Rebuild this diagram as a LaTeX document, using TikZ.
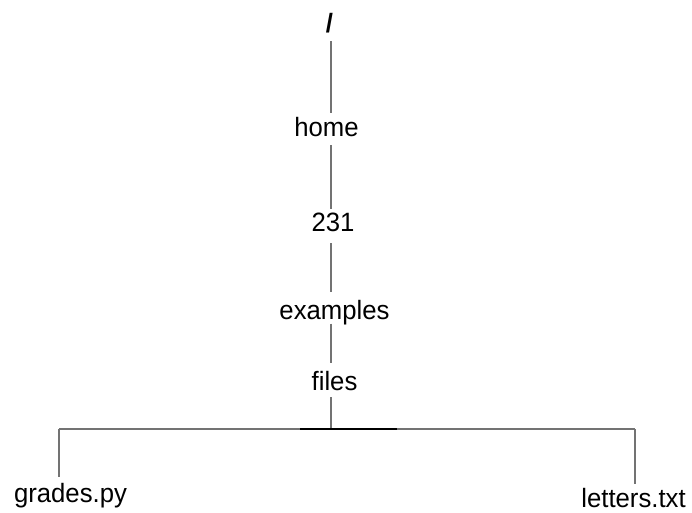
\documentclass[tikz,border=0pt]{standalone}
\usepackage{fontspec}
\setmainfont{Liberation Sans}
\newcommand{\lbltext}[1]{\scalebox{0.97}[1]{#1}}
\tikzset{
  lbl/.style={inner sep=0pt, outer sep=0pt, anchor=base, text height=19pt, text depth=5.5pt, font=\fontsize{26.5}{29}\selectfont},
  conn/.style={draw=black!55, line width=1.2pt},
  darkbar/.style={draw=black, line width=2pt}
}
\begin{document}
\begin{tikzpicture}[x=1pt,y=-1pt]
\useasboundingbox (0,0) rectangle (692,512);
\node[lbl] (root) at (329.5,32) {\lbltext{\textbf{/}}};
\node[lbl] (home) at (326.5,136) {\lbltext{home}};
\node[lbl] (n231) at (333,231.5) {\lbltext{231}};
\node[lbl] (ex) at (334.5,319) {\lbltext{examples}};
\node[lbl] (files) at (334.5,390) {\lbltext{files}};
\node[lbl] (grades) at (70.5,502) {\lbltext{grades.py}};
\node[lbl, text depth=1pt] (letters) at (633.5,507) {\lbltext{letters.txt}};
\coordinate (bar) at (331,429);
\coordinate (bl) at (59,429);
\coordinate (br) at (635,429);
\coordinate (dl) at (300,429);
\coordinate (dr) at (397,429);
\draw[conn, shorten <=3.5pt, shorten >=4pt] (root.south -| bar) -- (home.north -| bar);
\draw[conn, shorten <=3.5pt, shorten >=4pt] (home.south -| bar) -- (n231.north -| bar);
\draw[conn, shorten <=6pt, shorten >=8pt] (n231.south -| bar) -- (ex.north -| bar);
\draw[conn, shorten <=-1pt, shorten >=8pt] (ex.south -| bar) -- (files.north -| bar);
\draw[conn, shorten <=1.5pt] (files.south -| bar) -- (bar);
\draw[conn] (bl) -- (br);
\draw[darkbar] (dl) -- (dr);
\draw[conn, shorten >=6pt] (bl) -- (bl |- grades.north);
\draw[conn, shorten >=4pt] (br) -- (br |- letters.north);
\end{tikzpicture}
\end{document}
